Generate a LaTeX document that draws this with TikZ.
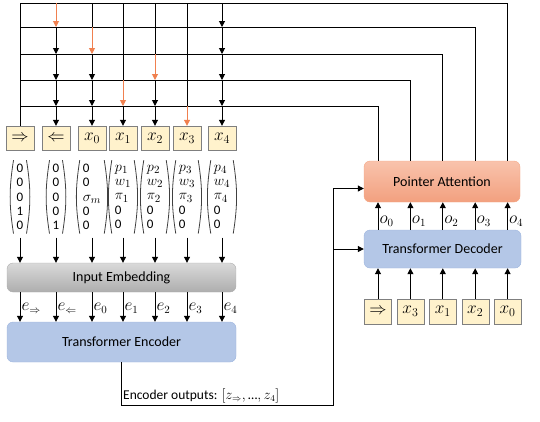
\documentclass[tikz,border=0pt]{standalone}
\usepackage{amsmath}
\usepackage{amssymb}
\usepackage{fontspec}
\setmainfont{Carlito}
\usetikzlibrary{positioning}
\usetikzlibrary{arrows.meta}

\definecolor{tokfill}{HTML}{FFF2CC}
\definecolor{tokline}{HTML}{7F7F7F}
\definecolor{embtop}{HTML}{D9D9D9}
\definecolor{embbot}{HTML}{AEAEAE}
\definecolor{encfill}{HTML}{B4C7E7}
\definecolor{encline}{HTML}{9DB5DE}
\definecolor{atttop}{HTML}{F9C3AC}
\definecolor{attbot}{HTML}{F2A07F}
\definecolor{attline}{HTML}{F4A886}
\definecolor{selcol}{HTML}{F0804F}
\definecolor{parcol}{HTML}{404040}

\newcommand{\mv}[1]{{\fontsize{15}{14.4}\selectfont$#1$}}

\begin{document}
\begin{tikzpicture}
		[x=1pt, y=-1pt,
		tok/.style={draw=tokline, fill=tokfill, minimum width=28pt, minimum height=24pt, inner sep=0pt, font=\fontsize{17}{19}\selectfont},
		vec/.style={align=left, inner xsep=3pt, inner ysep=1pt, minimum height=73pt, font=\fontsize{13}{14.4}\selectfont,
			append after command={(\tikzlastnode.north west) edge[line width=0.8pt, draw=parcol, bend right=9] (\tikzlastnode.south west)
				(\tikzlastnode.north east) edge[line width=0.8pt, draw=parcol, bend left=9] (\tikzlastnode.south east)}},
		blk/.style={rounded corners=6pt, inner sep=0pt, font=\fontsize{14}{16}\selectfont},
		ln/.style={line width=1pt},
		arr/.style={line width=1pt, -{Triangle[length=6pt, width=6pt]}},
		sel/.style={arr, draw=selcol, fill=selcol},
		lab/.style={right, inner sep=1pt, font=\fontsize{16}{18}\selectfont}]
		\useasboundingbox (0,0) rectangle (540,421);

		% input tokens
		\node[tok] (tr) at (20,138) {$\Rightarrow$};
		\node[tok] (tl) at (56,138) {$\Leftarrow$};
		\node[tok] (x0) at (92,138) {$x_0$};
		\node[tok] (x1) at (123,138) {$x_1$};
		\node[tok] (x2) at (155,138) {$x_2$};
		\node[tok] (x3) at (187,138) {$x_3$};
		\node[tok] (x4) at (222,138) {$x_4$};

		\node[vec, below=10pt of tr] (vr) {0\\0\\0\\1\\0};
		\node[vec, below=10pt of tl] (vl) {0\\0\\0\\0\\1};
		\node[vec, below=10pt of x0] (v0) {0\\0\\\mv{\sigma_m}\\0\\0};
		\node[vec, below=10pt of x1] (v1) {\mv{p_1}\\\mv{w_1}\\\mv{\pi_1}\\0\\0};
		\node[vec, below=10pt of x2] (v2) {\mv{p_2}\\\mv{w_2}\\\mv{\pi_2}\\0\\0};
		\node[vec, below=10pt of x3] (v3) {\mv{p_3}\\\mv{w_3}\\\mv{\pi_3}\\0\\0};
		\node[vec, below=10pt of x4] (v4) {\mv{p_4}\\\mv{w_4}\\\mv{\pi_4}\\0\\0};

		\node[blk, draw=embbot, top color=embtop, bottom color=embbot, minimum width=229pt, minimum height=29pt] (emb) at (121.5,277.5) {Input Embedding};
		\node[blk, draw=encline, fill=encfill, minimum width=229pt, minimum height=40pt] (enc) at (121.5,342) {Transformer Encoder};

		% decoder side
		\node[blk, draw=attline, top color=atttop, bottom color=attbot, minimum width=156pt, minimum height=41pt] (att) at (442,181.5) {Pointer Attention};
		\node[blk, draw=encline, fill=encfill, minimum width=157pt, minimum height=38pt] (dec) at (442.5,249) {Transformer Decoder};
		\node[tok, minimum width=27pt, minimum height=25pt] (dr) at (378,311.5) {$\Rightarrow$};
		\node[tok, minimum width=27pt, minimum height=25pt, right=5pt of dr] (dx3) {$x_3$};
		\node[tok, minimum width=27pt, minimum height=25pt, right=5pt of dx3] (dx1) {$x_1$};
		\node[tok, minimum width=27pt, minimum height=25pt, right=5pt of dx1] (dx2) {$x_2$};
		\node[tok, minimum width=27pt, minimum height=25pt, right=5pt of dx2] (dx0) {$x_0$};

		% rows of the pointer grid
		\coordinate (h4) at (20,3);
		\coordinate (h3) at (20,27);
		\coordinate (h2) at (20,54);
		\coordinate (h1) at (20,80);
		\coordinate (h0) at (20,106);
		\coordinate (eo) at (333,405);
		\coordinate (ain) at ([yshift=-7pt]att.west);

		\draw[ln] (att.north -| dr) |- (h0);
		\draw[ln] (att.north -| dx3) |- (h1);
		\draw[ln] (att.north -| dx1) |- (h2);
		\draw[ln] (att.north -| dx2) |- (h3);
		\draw[ln] (att.north -| dx0) |- (h4);
		\draw[ln] (h4) -- (tr.north);

		\draw[sel] (tl |- h4) -- (tl |- h3);
		\draw[arr] (tl |- h3) -- (tl |- h2);
		\draw[arr] (tl |- h2) -- (tl |- h1);
		\draw[arr] (tl |- h1) -- (tl |- h0);
		\draw[arr] (tl |- h0) -- (tl.north);

		\draw[ln] (x0 |- h4) -- (x0 |- h3);
		\draw[sel] (x0 |- h3) -- (x0 |- h2);
		\draw[arr] (x0 |- h2) -- (x0 |- h1);
		\draw[arr] (x0 |- h1) -- (x0 |- h0);
		\draw[arr] (x0 |- h0) -- (x0.north);

		\draw[ln] (x1 |- h4) -- (x1 |- h1);
		\draw[sel] (x1 |- h1) -- (x1 |- h0);
		\draw[arr] (x1 |- h0) -- (x1.north);

		\draw[ln] (x2 |- h4) -- (x2 |- h2);
		\draw[sel] (x2 |- h2) -- (x2 |- h1);
		\draw[arr] (x2 |- h1) -- (x2 |- h0);
		\draw[arr] (x2 |- h0) -- (x2.north);

		\draw[ln] (x3 |- h4) -- (x3 |- h0);
		\draw[sel] (x3 |- h0) -- (x3.north);

		\draw[arr] (x4 |- h4) -- (x4 |- h3);
		\draw[arr] (x4 |- h3) -- (x4 |- h2);
		\draw[arr] (x4 |- h2) -- (x4 |- h1);
		\draw[arr] (x4 |- h1) -- (x4 |- h0);
		\draw[arr] (x4 |- h0) -- (x4.north);

		% embedding and encoder
		\draw[arr] ([yshift=-4pt]vr.south) -- (vr.south |- emb.north);
		\draw[arr] ([yshift=-4pt]vl.south) -- (vl.south |- emb.north);
		\draw[arr] ([yshift=-4pt]v0.south) -- (v0.south |- emb.north);
		\draw[arr] ([yshift=-4pt]v1.south) -- (v1.south |- emb.north);
		\draw[arr] ([yshift=-4pt]v2.south) -- (v2.south |- emb.north);
		\draw[arr] ([yshift=-4pt]v3.south) -- (v3.south |- emb.north);
		\draw[arr] ([yshift=-4pt]v4.south) -- (v4.south |- emb.north);

		\draw[arr] (emb.south -| tr) -- (enc.north -| tr) node[lab, pos=0.55] {$e_{\Rightarrow}$};
		\draw[arr] (emb.south -| tl) -- (enc.north -| tl) node[lab, pos=0.55] {$e_{\Leftarrow}$};
		\draw[arr] (emb.south -| x0) -- (enc.north -| x0) node[lab, pos=0.55] {$e_0$};
		\draw[arr] (emb.south -| x1) -- (enc.north -| x1) node[lab, pos=0.55] {$e_1$};
		\draw[arr] (emb.south -| x2) -- (enc.north -| x2) node[lab, pos=0.55] {$e_2$};
		\draw[arr] (emb.south -| x3) -- (enc.north -| x3) node[lab, pos=0.55] {$e_3$};
		\draw[arr] (emb.south -| x4) -- (enc.north -| x4) node[lab, pos=0.55] {$e_4$};

		\draw[ln] (enc.south) |- (eo) -- (eo |- ain);
		\node[anchor=south west, inner sep=1.5pt, font=\fontsize{13.5}{15}\selectfont] (eolab) at (enc.south |- eo) {Encoder outputs: $[z_{\Rightarrow},\text{…},z_4]$};
		\draw[arr] (eo |- ain) -- (ain);
		\draw[arr] (eo |- dec.west) -- (dec.west);

		% decoder
		\draw[arr] (dr.north) -- (dr.north |- dec.south);
		\draw[arr] (dx3.north) -- (dx3.north |- dec.south);
		\draw[arr] (dx1.north) -- (dx1.north |- dec.south);
		\draw[arr] (dx2.north) -- (dx2.north |- dec.south);
		\draw[arr] (dx0.north) -- (dx0.north |- dec.south);

		\draw[arr] (dec.north -| dr) -- (att.south -| dr) node[lab, pos=0.3] {$o_0$};
		\draw[arr] (dec.north -| dx3) -- (att.south -| dx3) node[lab, pos=0.3] {$o_1$};
		\draw[arr] (dec.north -| dx1) -- (att.south -| dx1) node[lab, pos=0.3] {$o_2$};
		\draw[arr] (dec.north -| dx2) -- (att.south -| dx2) node[lab, pos=0.3] {$o_3$};
		\draw[arr] (dec.north -| dx0) -- (att.south -| dx0) node[lab, pos=0.3] {$o_4$};
	\end{tikzpicture}
\end{document}
